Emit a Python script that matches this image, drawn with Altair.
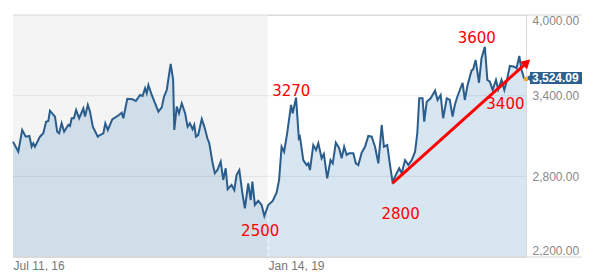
import altair as alt
import pandas as pd

dates = [
    "2016-07-11", "2016-07-30", "2016-08-13", "2016-08-26", "2016-09-08", "2016-09-16", "2016-09-22", "2016-09-28",
    "2016-10-16", "2016-10-28", "2016-11-07", "2016-11-15", "2016-11-21", "2016-12-09", "2016-12-17", "2016-12-24",
    "2017-01-02", "2017-01-11", "2017-01-26", "2017-02-01", "2017-02-07", "2017-02-15", "2017-02-23", "2017-03-06",
    "2017-03-21", "2017-03-27", "2017-04-06", "2017-04-14", "2017-04-24", "2017-05-12", "2017-05-20", "2017-06-01",
    "2017-06-08", "2017-06-17", "2017-07-03", "2017-07-27", "2017-08-06", "2017-08-12", "2017-08-26", "2017-09-14",
    "2017-09-26", "2017-10-11", "2017-10-20", "2017-10-29", "2017-11-04", "2017-11-10", "2017-11-22", "2017-12-04",
    "2017-12-16", "2017-12-28", "2018-01-05", "2018-01-15", "2018-01-29", "2018-02-07", "2018-02-11", "2018-02-20",
    "2018-02-28", "2018-03-10", "2018-03-22", "2018-03-31", "2018-04-08", "2018-04-18", "2018-04-24", "2018-04-30",
    "2018-05-08", "2018-05-21", "2018-06-01", "2018-06-10", "2018-06-17", "2018-06-29", "2018-07-07", "2018-07-16",
    "2018-07-28", "2018-08-06", "2018-08-15", "2018-08-22", "2018-09-05", "2018-09-15", "2018-09-23", "2018-10-03",
    "2018-10-14", "2018-10-23", "2018-11-04", "2018-11-13", "2018-11-19", "2018-11-28", "2018-12-10", "2018-12-22",
    "2019-01-01", "2019-01-15", "2019-01-31", "2019-02-14", "2019-02-23", "2019-03-04", "2019-03-13", "2019-03-24",
    "2019-04-07", "2019-04-13", "2019-04-25", "2019-05-05", "2019-05-09", "2019-05-21", "2019-06-02", "2019-06-08",
    "2019-06-14", "2019-06-26", "2019-07-06", "2019-07-14", "2019-07-26", "2019-08-03", "2019-08-15", "2019-08-27",
    "2019-09-04", "2019-09-15", "2019-09-27", "2019-10-06", "2019-10-15", "2019-10-24", "2019-11-02", "2019-11-17",
    "2019-11-26", "2019-12-05", "2019-12-17", "2019-12-29", "2020-01-10", "2020-01-22", "2020-02-03", "2020-02-15",
    "2020-02-27", "2020-03-06", "2020-03-18", "2020-03-28", "2020-04-06", "2020-04-21", "2020-04-30", "2020-05-09",
    "2020-05-21", "2020-06-02", "2020-06-14", "2020-06-26", "2020-07-04", "2020-07-11", "2020-07-23", "2020-07-29",
    "2020-08-07", "2020-08-21", "2020-09-06", "2020-09-15", "2020-09-26", "2020-10-05", "2020-10-18", "2020-10-29",
    "2020-11-08", "2020-11-16", "2020-11-25", "2020-12-14", "2020-12-22", "2021-01-01", "2021-01-15", "2021-01-21",
    "2021-01-30", "2021-02-11", "2021-02-20", "2021-03-04", "2021-03-13", "2021-03-22", "2021-04-01", "2021-04-13",
    "2021-04-21", "2021-05-03", "2021-05-13", "2021-05-21", "2021-06-02", "2021-06-18", "2021-06-26", "2021-07-06",
    "2021-07-14", "2021-07-23", "2021-07-30",
]
values = [
    3058, 2983, 3145, 3095, 3100, 3020, 3046, 3020,
    3095, 3120, 3206, 3212, 3288, 3244, 3132, 3120,
    3194, 3132, 3182, 3174, 3232, 3232, 3293, 3232,
    3306, 3244, 3331, 3281, 3169, 3095, 3107, 3120,
    3194, 3145, 3224, 3256, 3273, 3232, 3377, 3373,
    3360, 3405, 3398, 3455, 3418, 3479, 3405, 3343,
    3281, 3313, 3392, 3442, 3636, 3517, 3145, 3318,
    3269, 3343, 3269, 3169, 3194, 3150, 3182, 3095,
    3107, 3226, 3157, 3083, 3046, 2897, 2823, 2847,
    2909, 2773, 2860, 2704, 2736, 2698, 2810, 2847,
    2674, 2562, 2748, 2624, 2760, 2587, 2617, 2587,
    2505, 2587, 2617, 2678, 2773, 3020, 2983, 3120,
    3331, 3269, 3385, 3083, 3095, 2921, 2884, 2897,
    2847, 3033, 2996, 3046, 2934, 2966, 2785, 2921,
    2897, 3050, 3009, 2934, 3020, 2959, 2971, 2971,
    2897, 2884, 2976, 3020, 3100, 3095, 3020, 2897,
    3182, 3020, 3033, 2884, 2760, 2823, 2860, 2823,
    2921, 2884, 2921, 2983, 3120, 3380, 3380, 3206,
    3355, 3380, 3437, 3368, 3405, 3232, 3380, 3368,
    3244, 3331, 3392, 3496, 3368, 3479, 3586, 3596,
    3665, 3496, 3678, 3764, 3517, 3504, 3442, 3517,
    3447, 3517, 3442, 3504, 3621, 3615, 3604, 3695,
    3591, 3529, 3524.09,
]

y_ticks = [2200, 2800, 3400, 4000]
shade_start = "2016-07-11"
shade_end = "2019-01-14"
last_date = "2021-07-30"
last_value = 3524.09

note_text = ["3270", "2500", "2800", "3600", "3400"]
note_date = ["2019-04-08", "2018-12-17", "2020-05-05", "2021-02-03", "2021-05-17"]
note_value = [3438, 2393, 2520, 3829, 3338]

arrow_date = ["2020-04-06", "2021-08-02"]
arrow_value = [2750, 3646]

df = pd.DataFrame({"date": dates, "value": values})
shade_df = pd.DataFrame({"date": [shade_start], "e": [shade_end], "value": [4000], "bot": [2200]})
grid_df = pd.DataFrame({"value": y_ticks})
notes_df = pd.DataFrame({"t": note_text, "date": note_date, "value": note_value})
arrow_df = pd.DataFrame({"date": arrow_date, "value": arrow_value})
last_df = pd.DataFrame({"date": [last_date], "value": [last_value], "label": ["3,524.09"]})

xscale = alt.Scale(type="utc", domain=[alt.DateTime(year=2016, month=7, date=11, utc=True),
                                       alt.DateTime(year=2021, month=7, date=30, utc=True)])
yscale = alt.Scale(domain=[2200, 4000], zero=False, nice=False)

x_axis = alt.Axis(
    values=[alt.DateTime(year=2016, month=7, date=11, utc=True), alt.DateTime(year=2019, month=1, date=14, utc=True)],
    format="%b %d, %y", labelAlign="left", ticks=False, grid=False, domain=False,
    labelColor="#777777", labelFont="Liberation Sans", labelFontSize=12, labelPadding=3, title=None,
)
y_axis = alt.Axis(
    orient="right", values=y_ticks, format=",.2f", labelFlush=True, ticks=False, grid=False,
    domain=True, domainColor="#d9d9d9", labelColor="#888888", labelFont="Liberation Sans",
    labelFontSize=12, labelPadding=6, title=None,
)

shade = alt.Chart(shade_df).mark_rect(color="#f4f4f4").encode(
    x=alt.X("date:T", scale=xscale, axis=x_axis), x2="e:T",
    y=alt.Y("value:Q", scale=yscale, axis=y_axis), y2="bot:Q",
)

area = alt.Chart(df).mark_area(color="rgb(107,162,203)", opacity=0.27).encode(
    x="date:T", y="value:Q", y2=alt.datum(2200),
)

divider = alt.Chart(shade_df).mark_rule(color="white", strokeDash=[4, 3], strokeWidth=1).encode(
    x="e:T", y="value:Q", y2="bot:Q",
)

grid_inner = alt.Chart(grid_df).transform_filter(
    (alt.datum.value > 2200) & (alt.datum.value < 4000)
).mark_rule(color="rgba(0,0,0,0.08)", strokeWidth=1).encode(
    y="value:Q", x=alt.value(0), x2=alt.value(513),
)
grid_outer = alt.Chart(grid_df).transform_filter(
    (alt.datum.value == 2200) | (alt.datum.value == 4000)
).mark_rule(color="#d6d6d6", strokeWidth=1).encode(
    y="value:Q", x=alt.value(0), x2=alt.value(569),
)

line = alt.Chart(df).mark_line(color="#2b5d8c", strokeWidth=2).encode(
    x="date:T", y="value:Q",
)

arrow_line = alt.Chart(arrow_df).mark_line(color="#ff0000", strokeWidth=3).encode(
    x="date:T", y="value:Q",
)
arrow_head = alt.Chart(arrow_df.tail(1)).mark_point(
    shape="triangle-up", filled=True, color="#ff0000", opacity=1, size=110, angle=48,
).encode(x="date:T", y="value:Q")

notes = alt.Chart(notes_df).mark_text(
    color="#ff0000", font="DejaVu Sans", fontSize=15, align="center", baseline="middle",
).encode(x="date:T", y="value:Q", text="t:N")

tag_rect = alt.Chart(last_df).mark_rect(
    color="#2e5f8d", xOffset=4, x2Offset=56, yOffset=-7, y2Offset=5,
).encode(x="date:T", x2="date:T", y="value:Q", y2="value:Q")
tag_ptr = alt.Chart(last_df).mark_point(
    shape="triangle-left", filled=True, color="#2e5f8d", opacity=1, size=40, xOffset=2, yOffset=-1,
).encode(x="date:T", y="value:Q")
tag_text = alt.Chart(last_df).mark_text(
    color="white", font="Liberation Sans", fontSize=12, fontWeight="bold",
    align="left", baseline="middle", dx=6, dy=-1,
).encode(x="date:T", y="value:Q", text="label:N")
end_dot = alt.Chart(last_df).mark_point(
    shape="square", filled=True, color="#f5a623", opacity=1, size=16,
).encode(x="date:T", y="value:Q")

chart = alt.layer(
    shade, area, divider, grid_inner, grid_outer, line, arrow_line, arrow_head, notes,
    tag_rect, tag_ptr, tag_text, end_dot,
).properties(
    width=513, height=242,
    padding={"left": 9, "top": 14, "right": 0, "bottom": 0},
).configure_view(stroke=None).configure(background="white")

chart.save("out.html", embed_options={"renderer": "svg", "actions": False})
